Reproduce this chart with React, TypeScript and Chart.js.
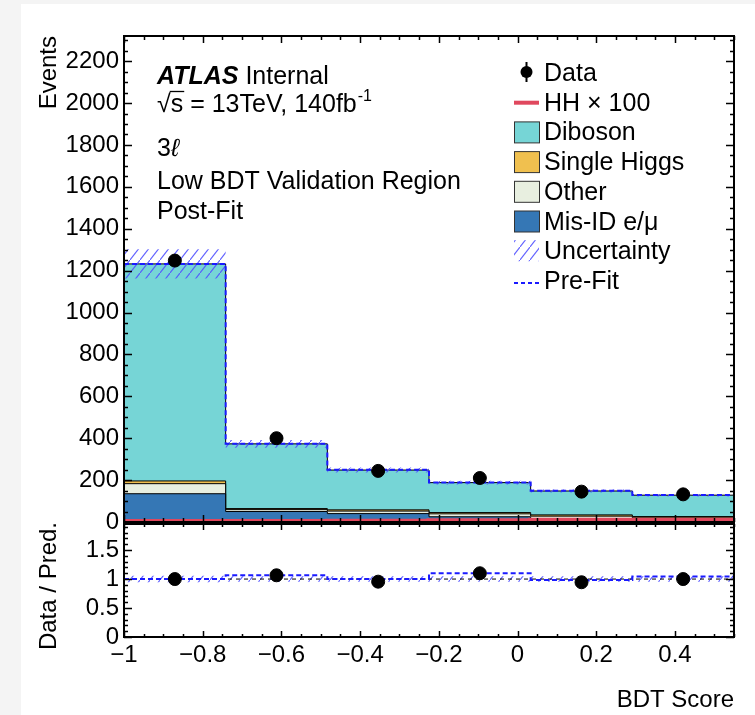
import React, { useEffect, useRef } from "react";
import { Chart, registerables } from "chart.js";
Chart.register(...registerables);

const FONT = '"Liberation Sans", Arial, Helvetica, "DejaVu Sans", sans-serif';

// ---- data ----
const BIN_EDGES = [-1, -0.7417, -0.4833, -0.225, 0.0333, 0.2917, 0.55];
const BIN_CENTERS = [-0.8708, -0.6125, -0.3542, -0.0958, 0.1625, 0.4208];
const MISID = [135, 50, 40, 25, 12, 5];
const OTHER = [48, 9, 12, 14, 16, 15];
const SINGLE_HIGGS = [13, 5, 6, 6, 6, 6];
const DIBOSON = [1036, 309, 190, 143, 114, 102];
const HH_X100 = [2, 2, 4, 6, 8, 8];
const PREFIT = [1232, 374, 249, 188, 149, 129];
const UNCERTAINTY = [70, 18, 12, 9, 7, 6];
const DATA = [1248, 400, 244, 210, 145, 132];
const RATIO_DATA = [1.0, 1.065, 0.955, 1.1, 0.945, 1.0];
const RATIO_PREFIT = [1.0, 1.065, 1.0, 1.1, 0.985, 1.045];
const MAIN_Y_TICKS = [0, 200, 400, 600, 800, 1000, 1200, 1400, 1600, 1800, 2000, 2200];
const RATIO_Y_TICKS = [0, 0.5, 1, 1.5];
const X_TICKS = [-1, -0.8, -0.6, -0.4, -0.2, 0, 0.2, 0.4];

const COL = {
  misid: "#3577b5",
  other: "#e8efe0",
  sh: "#f0c04f",
  dib: "#76d5d6",
  hh: "#e0485e",
  prefit: "#1a1aff",
};

function stepPoints(vals: number[]) {
  const pts = vals.map((v, i) => ({ x: BIN_EDGES[i], y: v }));
  pts.push({ x: BIN_EDGES[vals.length], y: vals[vals.length - 1] });
  return pts;
}
function cumulative(...arrs: number[][]) {
  return arrs[0].map((_, i) => arrs.reduce((s, a) => s + a[i], 0));
}

let hatchCache: CanvasPattern | null = null;
function hatch(): CanvasPattern {
  if (hatchCache) return hatchCache;
  const c = document.createElement("canvas");
  c.width = 10;
  c.height = 13;
  const g = c.getContext("2d")!;
  g.strokeStyle = "rgba(80,80,255,0.9)";
  g.lineWidth = 1.1;
  g.beginPath();
  g.moveTo(-1, 14.3);
  g.lineTo(11, -1.3);
  g.stroke();
  hatchCache = g.createPattern(c, "repeat")!;
  return hatchCache;
}

function frameTicks(cfg: { yStep: number; yMajorEvery: number; yMajLen: number; yMinLen: number; xMajLen: number; xMinLen: number }) {
  return {
    id: "frameTicks",
    afterDraw(chart: any) {
      const { ctx, chartArea } = chart;
      const { left, right, top, bottom } = chartArea;
      const x = chart.scales.x;
      const y = chart.scales.y;
      ctx.save();
      ctx.strokeStyle = "#000";
      ctx.lineWidth = 1.5;
      ctx.beginPath();
      for (let k = -20; k <= 11; k++) {
        const px = Math.round(x.getPixelForValue(k * 0.05)) + 0.5;
        const len = k % 4 === 0 ? cfg.xMajLen : cfg.xMinLen;
        ctx.moveTo(px, bottom);
        ctx.lineTo(px, bottom - len);
        ctx.moveTo(px, top);
        ctx.lineTo(px, top + len);
      }
      for (let k = 0; k * cfg.yStep <= y.max + 1e-9; k++) {
        const py = Math.round(y.getPixelForValue(k * cfg.yStep)) + 0.5;
        const len = k % cfg.yMajorEvery === 0 ? cfg.yMajLen : cfg.yMinLen;
        ctx.moveTo(left, py);
        ctx.lineTo(left + len, py);
        ctx.moveTo(right, py);
        ctx.lineTo(right - len, py);
      }
      ctx.stroke();
      ctx.lineWidth = 2;
      ctx.strokeRect(left, top, right - left, bottom - top);
      ctx.restore();
    },
  };
}

function txt(ctx: CanvasRenderingContext2D, s: string, x: number, y: number, font: string, align: CanvasTextAlign = "left") {
  ctx.font = font;
  ctx.textAlign = align;
  ctx.textBaseline = "alphabetic";
  ctx.fillStyle = "#000";
  ctx.fillText(s, x, y);
  return ctx.measureText(s).width;
}

const mainText = {
  id: "mainText",
  afterDraw(chart: any) {
    const ctx: CanvasRenderingContext2D = chart.ctx;
    const L = chart.chartArea.left + 33;
    const f25 = `25px ${FONT}`;
    ctx.save();
    // ATLAS label
    let w = txt(ctx, "ATLAS", L, 84, `italic bold 25px ${FONT}`);
    txt(ctx, " Internal", L + w, 84, f25);
    // sqrt(s)
    const b2 = 112;
    w = txt(ctx, "\u221A", L, b2, f25);
    const ws = txt(ctx, "s", L + w, b2, f25);
    ctx.strokeStyle = "#000";
    ctx.lineWidth = 1.3;
    ctx.beginPath();
    ctx.moveTo(L + w - 1, b2 - 20.5);
    ctx.lineTo(L + w + ws + 1, b2 - 20.5);
    ctx.stroke();
    const w3 = txt(ctx, " = 13TeV, 140fb", L + w + ws, b2, f25);
    txt(ctx, "-1", L + w + ws + w3 + 1, b2 - 11, `16px ${FONT}`);
    // 3l
    const w4 = txt(ctx, "3", L, 156, f25);
    txt(ctx, "\u2113", L + w4, 156, `italic 25px ${FONT}`);
    txt(ctx, "Low BDT Validation Region", L, 189, f25);
    txt(ctx, "Post-Fit", L, 219, f25);

    // legend
    const bx = 514, bw = 25, tx = 544;
    const rows = ["Data", "HH \u00D7 100", "Diboson", "Single Higgs", "Other", "Mis-ID e/\u03BC", "Uncertainty", "Pre-Fit"];
    rows.forEach((r, i) => {
      const cy = 72 + i * 29.7;
      txt(ctx, r, tx, cy + 9, f25);
      if (i === 0) {
        ctx.fillStyle = "#000";
        ctx.beginPath();
        ctx.arc(bx + bw / 2, cy, 6, 0, Math.PI * 2);
        ctx.fill();
        ctx.strokeStyle = "#000";
        ctx.lineWidth = 2;
        ctx.beginPath();
        ctx.moveTo(bx + bw / 2, cy - 10);
        ctx.lineTo(bx + bw / 2, cy + 10);
        ctx.stroke();
      } else if (i === 1) {
        ctx.strokeStyle = COL.hh;
        ctx.lineWidth = 4;
        ctx.beginPath();
        ctx.moveTo(bx, cy + 1);
        ctx.lineTo(bx + bw, cy + 1);
        ctx.stroke();
      } else if (i >= 2 && i <= 5) {
        const c = [COL.dib, COL.sh, COL.other, COL.misid][i - 2];
        ctx.fillStyle = c;
        ctx.fillRect(bx, cy - 9.5, bw, 21);
        ctx.strokeStyle = "#333";
        ctx.lineWidth = 1;
        ctx.strokeRect(bx + 0.5, cy - 9.5, bw, 21);
      } else if (i === 6) {
        ctx.fillStyle = hatch();
        ctx.fillRect(bx, cy - 10, bw, 21);
      } else {
        ctx.strokeStyle = COL.prefit;
        ctx.lineWidth = 2;
        ctx.setLineDash([4, 3]);
        ctx.beginPath();
        ctx.moveTo(bx, cy + 3);
        ctx.lineTo(bx + bw, cy + 3);
        ctx.stroke();
        ctx.setLineDash([]);
      }
    });

    // y title
    ctx.translate(56, chart.chartArea.top);
    ctx.rotate(-Math.PI / 2);
    txt(ctx, "Events", 0, 0, `24px ${FONT}`, "right");
    ctx.restore();
  },
};

const ratioText = {
  id: "ratioText",
  afterDraw(chart: any) {
    const ctx: CanvasRenderingContext2D = chart.ctx;
    ctx.save();
    txt(ctx, "BDT Score", chart.chartArea.right, 192, `24px ${FONT}`, "right");
    ctx.translate(56, chart.chartArea.top - 2);
    ctx.rotate(-Math.PI / 2);
    txt(ctx, "Data / Pred.", 0, 0, `24px ${FONT}`, "right");
    ctx.restore();
  },
};

function stepLine(label: string, vals: number[], extra: any) {
  return {
    type: "line",
    label,
    data: stepPoints(vals),
    showLine: true,
    stepped: "before",
    pointRadius: 0,
    borderWidth: 1,
    borderColor: "#000",
    fill: false,
    ...extra,
  };
}

const xTickLabel = (v: number) => (v < 0 ? "\u2212" + String(Math.abs(v)) : String(v));

const noPadY = (s: any) => {
  s.width = 124;
  s.paddingTop = 0;
  s.paddingBottom = 0;
};

export default function App() {
  const mainRef = useRef<HTMLCanvasElement>(null);
  const ratioRef = useRef<HTMLCanvasElement>(null);

  useEffect(() => {
    Chart.defaults.font.family = FONT;
    Chart.defaults.color = "#000";

    const c1 = MISID;
    const c2 = cumulative(MISID, OTHER);
    const c3 = cumulative(MISID, OTHER, SINGLE_HIGGS);
    const total = cumulative(MISID, OTHER, SINGLE_HIGGS, DIBOSON);
    const uncHi = total.map((t, i) => t + UNCERTAINTY[i]);
    const uncLo = total.map((t, i) => t - UNCERTAINTY[i]);
    const rHi = total.map((t, i) => 1 + UNCERTAINTY[i] / t);
    const rLo = total.map((t, i) => 1 - UNCERTAINTY[i] / t);

    const main = new Chart(mainRef.current!, {
      type: "scatter",
      data: {
        datasets: [
          {
            label: "Data",
            data: DATA.map((v, i) => ({ x: BIN_CENTERS[i], y: v })),
            pointRadius: 6.5,
            pointBackgroundColor: "#000",
            pointBorderColor: "#000",
            showLine: false,
          },
          stepLine("HH x 100", HH_X100, { borderColor: COL.hh, borderWidth: 5, clip: 4 }),
          stepLine("Pre-Fit", PREFIT, { borderColor: COL.prefit, borderWidth: 2, borderDash: [5, 3] }),
          stepLine("Uncertainty", uncHi, { borderColor: "rgba(0,0,0,0)", borderWidth: 0, backgroundColor: hatch(), fill: "+1" }),
          stepLine("Unc low", uncLo, { borderColor: "rgba(0,0,0,0)", borderWidth: 0 }),
          stepLine("Mis-ID", c1, { backgroundColor: COL.misid, fill: "origin" }),
          stepLine("Other", c2, { backgroundColor: COL.other, fill: "origin" }),
          stepLine("Single Higgs", c3, { backgroundColor: COL.sh, fill: "origin" }),
          stepLine("Diboson", total, { backgroundColor: COL.dib, fill: "origin" }),
        ] as any,
      },
      options: {
        responsive: false,
        animation: false,
        devicePixelRatio: 1,
        layout: { padding: { top: 36, right: 21, bottom: 8, left: 0 } },
        plugins: { legend: { display: false }, tooltip: { enabled: false } },
        scales: {
          x: { type: "linear", min: -1, max: 0.55, display: false },
          y: {
            type: "linear",
            min: 0,
            max: 2320,
            afterFit: noPadY,
            afterBuildTicks: (s: any) => { s.ticks = MAIN_Y_TICKS.map((v) => ({ value: v })); },
            grid: { display: false, drawTicks: false },
            border: { display: false },
            ticks: { padding: 5, font: { size: 24 }, color: "#000", callback: (v: any) => String(v) },
          },
        },
      } as any,
      plugins: [frameTicks({ yStep: 50, yMajorEvery: 4, yMajLen: 8, yMinLen: 4, xMajLen: 7, xMinLen: 4 }), mainText],
    });

    const ratio = new Chart(ratioRef.current!, {
      type: "scatter",
      data: {
        datasets: [
          {
            label: "Data / Pred.",
            data: RATIO_DATA.map((v, i) => ({ x: BIN_CENTERS[i], y: v })),
            pointRadius: 6.5,
            pointBackgroundColor: "#000",
            pointBorderColor: "#000",
            showLine: false,
          },
          stepLine("Pre-Fit", RATIO_PREFIT, { borderColor: COL.prefit, borderWidth: 2, borderDash: [5, 3] }),
          {
            type: "line",
            label: "unity",
            data: [{ x: -1, y: 1 }, { x: 0.55, y: 1 }],
            showLine: true,
            pointRadius: 0,
            borderColor: "#000",
            borderWidth: 1,
            borderDash: [4, 4],
          },
          stepLine("Uncertainty", rHi, { borderColor: "rgba(0,0,0,0)", borderWidth: 0, backgroundColor: hatch(), fill: "+1" }),
          stepLine("Unc low", rLo, { borderColor: "rgba(0,0,0,0)", borderWidth: 0 }),
        ] as any,
      },
      options: {
        responsive: false,
        animation: false,
        devicePixelRatio: 1,
        layout: { padding: { top: 9, right: 21, bottom: 0, left: 0 } },
        plugins: { legend: { display: false }, tooltip: { enabled: false } },
        scales: {
          x: {
            type: "linear",
            min: -1,
            max: 0.55,
            afterFit: (s: any) => {
              s.height = 78;
              s.paddingLeft = 0;
              s.paddingRight = 0;
            },
            afterBuildTicks: (s: any) => { s.ticks = X_TICKS.map((v) => ({ value: v })); },
            grid: { display: false, drawTicks: false },
            border: { display: false },
            ticks: { padding: 4, font: { size: 24 }, color: "#000", autoSkip: false, maxRotation: 0, callback: (v: any) => xTickLabel(v) },
          },
          y: {
            type: "linear",
            min: 0,
            max: 1.95,
            afterFit: noPadY,
            afterBuildTicks: (s: any) => { s.ticks = RATIO_Y_TICKS.map((v) => ({ value: v })); },
            grid: { display: false, drawTicks: false },
            border: { display: false },
            ticks: { padding: 5, font: { size: 24 }, color: "#000", callback: (v: any) => String(v) },
          },
        },
      } as any,
      plugins: [frameTicks({ yStep: 0.1, yMajorEvery: 5, yMajLen: 8, yMinLen: 4, xMajLen: 6, xMinLen: 3 }), ratioText],
    });

    return () => {
      main.destroy();
      ratio.destroy();
    };
  }, []);

  return (
    <div style={{ position: "absolute", left: 0, top: 0, width: 755, height: 715, background: "#f4f4f4", overflow: "hidden" }}>
      <div style={{ position: "absolute", left: 21, top: 4, width: 734, height: 711, background: "#ffffff" }} />
      <canvas ref={mainRef} width={755} height={530} style={{ position: "absolute", left: 0, top: 0, width: 755, height: 530 }} />
      <canvas ref={ratioRef} width={755} height={200} style={{ position: "absolute", left: 0, top: 515, width: 755, height: 200 }} />
    </div>
  );
}
